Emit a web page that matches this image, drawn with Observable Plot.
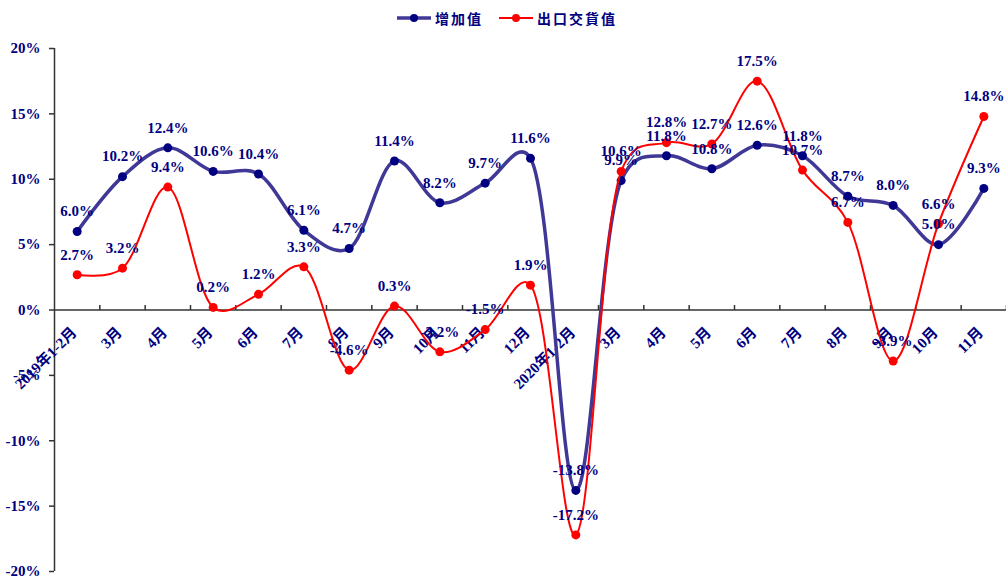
<!DOCTYPE html>
<html>
<head>
<meta charset="utf-8">
<script src="https://cdn.jsdelivr.net/npm/d3@7"></script>
<script src="https://cdn.jsdelivr.net/npm/@observablehq/plot@0.6"></script>
<style>
  html, body { margin: 0; padding: 0; background: #fff; }
  #legend {
    height: 35px; display: flex; align-items: center; justify-content: center;
    font-family: "Noto Sans CJK SC", sans-serif; font-weight: bold; font-size: 14px;
    color: #000080; letter-spacing: 2px; padding-left: 8px; box-sizing: border-box;
  }
  #legend .item { display: flex; align-items: center; margin: 0 8px; }
  #legend svg { margin-right: 4px; }
</style>
</head>
<body>
<div id="legend"></div>
<div id="chart"></div>
<script>
// Monthly year-on-year growth, 2019 Jan-Feb to 2020 Nov
const months = ["2019年1-2月", "3月", "4月", "5月", "6月", "7月", "8月", "9月", "10月", "11月", "12月",
                "2020年1-2月", "3月", "4月", "5月", "6月", "7月", "8月", "9月", "10月", "11月"];
const valueAdded = [6.0, 10.2, 12.4, 10.6, 10.4, 6.1, 4.7, 11.4, 8.2, 9.7, 11.6,
                    -13.8, 9.9, 11.8, 10.8, 12.6, 11.8, 8.7, 8.0, 5.0, 9.3];
const exportDelivery = [2.7, 3.2, 9.4, 0.2, 1.2, 3.3, -4.6, 0.3, -3.2, -1.5, 1.9,
                        -17.2, 10.6, 12.8, 12.7, 17.5, 10.7, 6.7, -3.9, 6.6, 14.8];
const yTicks = [-20, -15, -10, -5, 0, 5, 10, 15, 20];
const seriesNames = ["增加值", "出口交貨值"];

const blueLine = "#3f3896", blueDot = "#000080", red = "#ff0000", navy = "#000080", axisColor = "#333";

// category slots: each month occupies one unit, point at its centre
const rows = months.map((m, i) => ({i, m, pos: i + 0.5, va: valueAdded[i], ex: exportDelivery[i]}));
const boundaries = d3.range(1, months.length + 1);

// short upward tick on the zero line
const tickUp = {draw(ctx) { ctx.moveTo(0, 0); ctx.lineTo(0, -5); }};

const serif = "'Liberation Serif', 'Times New Roman', 'Noto Sans CJK SC', serif";
// smoothed lines: Catmull-Rom spline, alpha given through the tension option
const smooth = {curve: "catmull-rom", tension: 0.25};

const chart = Plot.plot({
  width: 1006,
  height: 544,
  marginLeft: 54,
  marginRight: 0,
  marginTop: 13,
  marginBottom: 8,
  style: {fontFamily: serif, fontSize: "15px", fontWeight: "bold", color: navy, background: "#fff"},
  x: {domain: [0, months.length], axis: null},
  y: {domain: [-20, 20], axis: null},
  marks: [
    Plot.ruleX([0], {stroke: axisColor, strokeWidth: 1.5}),
    Plot.axisY(yTicks, {anchor: "left", tickSize: 5, tickPadding: 9, tickFormat: d => `${d}%`,
                        stroke: axisColor, fill: navy, strokeWidth: 1.5}),
    Plot.ruleY([0], {stroke: axisColor, strokeWidth: 1.5}),
    Plot.dot(boundaries, {x: d => d, y: 0, symbol: tickUp, stroke: axisColor, strokeWidth: 1.5, fill: "none"}),
    Plot.text(rows, {x: "pos", y: 0, text: "m", rotate: -45, textAnchor: "end", dx: -3, dy: 20, fill: navy}),
    Plot.line(rows, {x: "pos", y: "va", ...smooth, stroke: blueLine, strokeWidth: 3.5}),
    Plot.dot(rows, {x: "pos", y: "va", r: 4.5, fill: blueDot}),
    Plot.line(rows, {x: "pos", y: "ex", ...smooth, stroke: red, strokeWidth: 2}),
    Plot.dot(rows, {x: "pos", y: "ex", r: 4.5, fill: red}),
    Plot.text(rows, {x: "pos", y: "va", text: d => `${d.va.toFixed(1)}%`, dy: -20, fill: navy}),
    Plot.text(rows, {x: "pos", y: "ex", text: d => `${d.ex.toFixed(1)}%`, dy: -20, fill: navy})
  ]
});
document.getElementById("chart").appendChild(chart);

// legend above the chart
const legend = d3.select("#legend");
[[seriesNames[0], blueLine, blueDot, 3.5], [seriesNames[1], red, red, 2]].forEach(([name, line, dot, w]) => {
  const item = legend.append("div").attr("class", "item");
  const sw = item.append("svg").attr("width", 34).attr("height", 12);
  sw.append("line").attr("x1", 0).attr("x2", 34).attr("y1", 6).attr("y2", 6)
    .attr("stroke", line).attr("stroke-width", w);
  sw.append("circle").attr("cx", 17).attr("cy", 6).attr("r", 4).attr("fill", dot);
  item.append("span").text(name);
});
</script>
</body>
</html>
